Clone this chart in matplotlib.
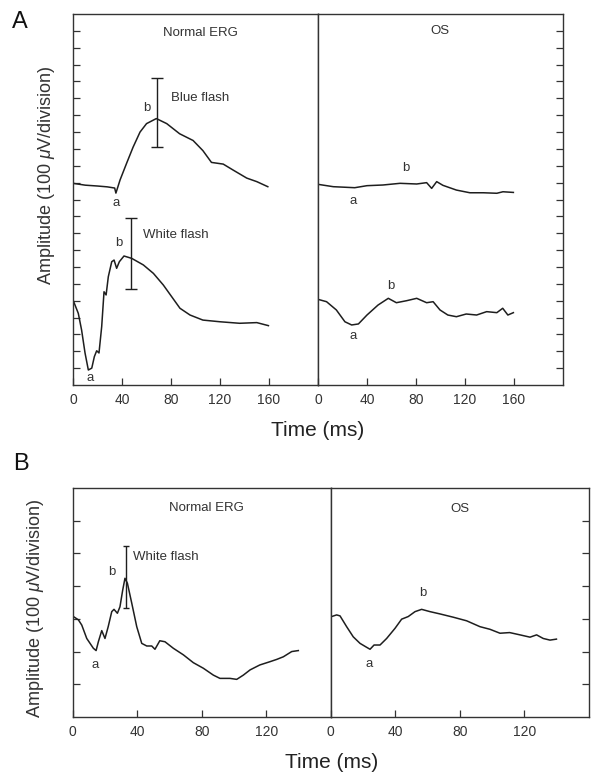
import matplotlib
matplotlib.use('Agg')
import matplotlib.pyplot as plt

plt.rcParams['font.family'] = ['Liberation Sans', 'DejaVu Sans']
plt.rcParams['mathtext.fontset'] = 'custom'
plt.rcParams['mathtext.it'] = 'Liberation Sans:italic'
plt.rcParams['mathtext.rm'] = 'Liberation Sans'

# ---- Panel A, Normal ERG : blue flash (upper trace)
a_blue_t = [0, 10, 20, 28, 34, 35, 38.4, 43.8, 49, 54.7, 60, 68, 76.5, 87, 98, 106,
            113, 122.6, 130.6, 141.8, 150, 159]
a_blue_v = [11.96, 11.85, 11.8, 11.75, 11.68, 11.38, 12.16, 13.16, 14.1, 15.0, 15.5, 15.8,
            15.5, 14.9, 14.5, 13.9, 13.2, 13.1, 12.75, 12.27, 12.06, 11.76]

# ---- Panel A, Normal ERG : white flash (lower trace)
a_white_t = [0, 4.3, 7, 9.8, 12.5, 15.3, 17.4, 19.3, 21.2, 23.4, 25.3, 27, 28.8, 31.6,
             33.5, 35.6, 37.8, 41.6, 47.9, 57.4, 65.6, 73.7, 80.5, 87.3, 95.5, 106,
             120, 136, 150, 159.5]
a_white_v = [5.04, 4.25, 3.26, 1.9, 0.89, 1.0, 1.68, 2.03, 1.9, 3.46, 5.53, 5.34, 6.42,
             7.31, 7.41, 6.92, 7.31, 7.65, 7.51, 7.12, 6.62, 5.93, 5.24, 4.55, 4.15,
             3.85, 3.75, 3.66, 3.7, 3.52]

# ---- Panel A, OS : upper trace
a_os1_t = [0, 12.5, 30, 40, 53, 67, 80.6, 88.7, 92.8, 96.9, 102, 113, 124, 135, 146,
           151, 159.5]
a_os1_v = [11.9, 11.76, 11.7, 11.82, 11.86, 11.96, 11.92, 12.0, 11.66, 12.06, 11.84,
           11.56, 11.4, 11.4, 11.37, 11.46, 11.42]

# ---- Panel A, OS : lower trace
a_os2_t = [0, 7, 15, 22, 27.5, 33, 40, 49, 57.4, 64, 72.4, 80.6, 88.7, 94, 99.6, 106,
           113, 121, 129.5, 137.7, 146, 150.8, 155, 159.5]
a_os2_v = [5.08, 4.94, 4.45, 3.75, 3.56, 3.62, 4.15, 4.74, 5.14, 4.88, 5.0, 5.14, 4.88,
           4.94, 4.45, 4.15, 4.05, 4.21, 4.15, 4.35, 4.29, 4.55, 4.15, 4.29]

# ---- Panel B, Normal ERG : white flash
b_erg_t = [0.4, 3.5, 5.6, 8.7, 12.8, 14.5, 15.9, 18, 20, 22, 24.2, 25.6, 27.7, 29.3, 31,
           32.4, 33.9, 36.6, 39.7, 42.8, 45.9, 49, 51, 54, 57.2, 62.4, 68.6, 74.8, 81,
           87.2, 91.3, 97.5, 101.7, 105.8, 110, 116, 122.3, 126.5, 130.6, 135.8, 139.9]
b_erg_v = [3.07, 2.97, 2.81, 2.4, 2.1, 2.03, 2.3, 2.64, 2.4, 2.76, 3.22, 3.29, 3.17, 3.37,
           3.88, 4.24, 4.09, 3.48, 2.76, 2.25, 2.17, 2.17, 2.07, 2.33, 2.3, 2.1, 1.9,
           1.66, 1.49, 1.28, 1.18, 1.18, 1.15, 1.28, 1.44, 1.59, 1.69, 1.76, 1.84, 2.0,
           2.03]

# ---- Panel B, OS
b_os_t = [0.6, 3.7, 5.8, 9.9, 14, 18.2, 22.3, 24.4, 26.9, 30.6, 34.7, 39.9, 44, 48.1,
          52.3, 56.4, 61.6, 67.8, 76, 84.3, 92.6, 98.8, 105, 111, 117.4, 123.6, 127.7,
          131.8, 136, 140]
b_os_v = [3.07, 3.12, 3.09, 2.76, 2.45, 2.25, 2.13, 2.07, 2.2, 2.2, 2.4, 2.71, 2.99, 3.07,
          3.22, 3.29, 3.22, 3.15, 3.05, 2.94, 2.76, 2.68, 2.56, 2.58, 2.51, 2.44, 2.51,
          2.4, 2.35, 2.38]

# error bars: (time, low, high)
a_blue_bar = (68.6, 14.1, 18.2)
a_white_bar = (47.1, 5.69, 9.88)
b_white_bar = (33.0, 3.34, 5.23)

ticks_a = [0, 40, 80, 120, 160]
ticks_b = [0, 40, 80, 120]

line_c = '#1e1e1e'
txt_c = '#333333'

fig = plt.figure(figsize=(6.02, 7.83), dpi=100)

axA1 = fig.add_axes([0.1213, 0.5083, 0.4070, 0.4738])
axA2 = fig.add_axes([0.5282, 0.5083, 0.4070, 0.4738])
axB1 = fig.add_axes([0.1208, 0.0843, 0.4286, 0.2925])
axB2 = fig.add_axes([0.5493, 0.0843, 0.4286, 0.2925])


def style(ax, xmax, ymax, xt, side):
    ax.set_xlim(0, xmax)
    ax.set_ylim(0, ymax)
    ax.set_xticks(xt)
    ax.set_yticks(range(1, ymax))
    ax.set_yticklabels([])
    for s in ax.spines.values():
        s.set_color('#333333')
        s.set_linewidth(1.0)
    ax.tick_params(axis='x', direction='in', length=5, width=0.9, color='#333333',
                   labelsize=10, labelcolor=txt_c, pad=6, top=False)
    if side == 'left':
        ax.tick_params(axis='y', direction='in', length=5, width=0.9, color='#333333',
                       left=True, right=False)
    else:
        ax.tick_params(axis='y', direction='in', length=5, width=0.9, color='#333333',
                       left=False, right=True, labelleft=False)


def bar(ax, b, cap):
    t, lo, hi = b
    ax.errorbar([t], [(lo + hi) / 2], yerr=[(hi - lo) / 2], fmt='none', ecolor=line_c,
                elinewidth=1.0, capsize=cap, capthick=1.0)


style(axA1, 200, 22, ticks_a, 'left')
style(axA2, 200, 22, ticks_a, 'right')
style(axB1, 160, 7, ticks_b, 'left')
style(axB2, 160, 7, ticks_b, 'right')

# panel A traces
axA1.plot(a_blue_t, a_blue_v, color=line_c, lw=1.1)
axA1.plot(a_white_t, a_white_v, color=line_c, lw=1.1)
axA2.plot(a_os1_t, a_os1_v, color=line_c, lw=1.1)
axA2.plot(a_os2_t, a_os2_v, color=line_c, lw=1.1)
bar(axA1, a_blue_bar, 4)
bar(axA1, a_white_bar, 4)

fs = 9.5
axA1.text(103.7, 20.9, 'Normal ERG', ha='center', va='center', fontsize=fs, color=txt_c)
axA1.text(60.4, 16.4, 'b', ha='center', va='center', fontsize=fs, color=txt_c)
axA1.text(80, 17.0, 'Blue flash', ha='left', va='center', fontsize=fs, color=txt_c)
axA1.text(35, 10.8, 'a', ha='center', va='center', fontsize=fs, color=txt_c)
axA1.text(37, 8.44, 'b', ha='center', va='center', fontsize=fs, color=txt_c)
axA1.text(57, 8.9, 'White flash', ha='left', va='center', fontsize=fs, color=txt_c)
axA1.text(13.9, 0.4, 'a', ha='center', va='center', fontsize=fs, color=txt_c)

axA2.text(99.6, 21.0, 'OS', ha='center', va='center', fontsize=fs, color=txt_c)
axA2.text(71.8, 12.85, 'b', ha='center', va='center', fontsize=fs, color=txt_c)
axA2.text(28.6, 10.93, 'a', ha='center', va='center', fontsize=fs, color=txt_c)
axA2.text(59.3, 5.87, 'b', ha='center', va='center', fontsize=fs, color=txt_c)
axA2.text(28.8, 2.9, 'a', ha='center', va='center', fontsize=fs, color=txt_c)

# panel B traces
axB1.plot(b_erg_t, b_erg_v, color=line_c, lw=1.1)
axB2.plot(b_os_t, b_os_v, color=line_c, lw=1.1)
bar(axB1, b_white_bar, 2)

axB1.text(83, 6.38, 'Normal ERG', ha='center', va='center', fontsize=fs, color=txt_c)
axB1.text(24.2, 4.44, 'b', ha='center', va='center', fontsize=fs, color=txt_c)
axB1.text(37.6, 4.9, 'White flash', ha='left', va='center', fontsize=fs, color=txt_c)
axB1.text(13.8, 1.59, 'a', ha='center', va='center', fontsize=fs, color=txt_c)

axB2.text(80, 6.35, 'OS', ha='center', va='center', fontsize=fs, color=txt_c)
axB2.text(57, 3.78, 'b', ha='center', va='center', fontsize=fs, color=txt_c)
axB2.text(24, 1.62, 'a', ha='center', va='center', fontsize=fs, color=txt_c)

# figure level labels (pixel positions converted to figure fraction)
W, H = 602.0, 783.0
ylab = r'Amplitude (100 $\mu$V/division)'
fig.text(47 / W, 1 - 175 / H, ylab, rotation=90, ha='center', va='center',
         fontsize=13, color=txt_c)
fig.text(36 / W, 1 - 608 / H, ylab, rotation=90, ha='center', va='center',
         fontsize=13, color=txt_c)
fig.text(318 / W, 1 - 430 / H, 'Time (ms)', ha='center', va='center', fontsize=15,
         color='#222222')
fig.text(331.5 / W, 1 - 762 / H, 'Time (ms)', ha='center', va='center', fontsize=15,
         color='#222222')
fig.text(20 / W, 1 - 22 / H, 'A', ha='center', va='center', fontsize=17, color='#111111')
fig.text(21 / W, 1 - 464 / H, 'B', ha='center', va='center', fontsize=17, color='#111111')

fig.savefig('out.png', dpi=100)
